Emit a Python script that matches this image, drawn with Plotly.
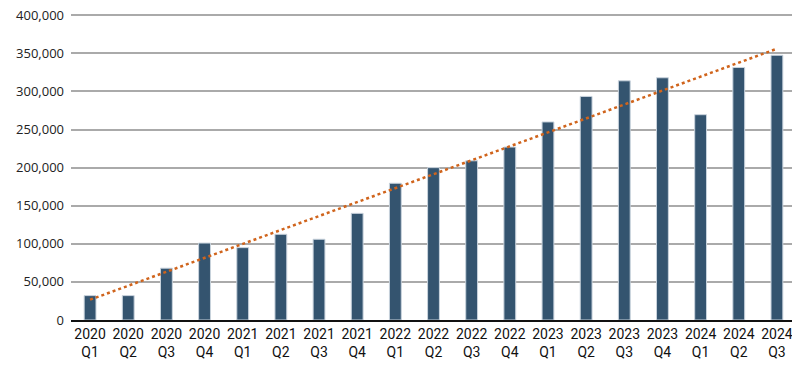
import numpy as np
import plotly.graph_objects as go

years = ["2020"]*4 + ["2021"]*4 + ["2022"]*4 + ["2023"]*4 + ["2024"]*3
quarters = ["Q1","Q2","Q3","Q4"]*4 + ["Q1","Q2","Q3"]
categories = [f"{y}<br>{q}" for y, q in zip(years, quarters)]
values = [32000, 32000, 68000, 101000, 95000, 112500, 106000, 140000, 179500,
          200000, 209000, 227000, 260000, 293500, 314000, 318000, 269500, 331500, 347500]
y_ticks = [0, 50000, 100000, 150000, 200000, 250000, 300000, 350000, 400000]

idx = np.arange(len(values))
slope, intercept = np.polyfit(idx, values, 1)
trend = slope * idx + intercept

fig = go.Figure()
fig.add_trace(go.Bar(
    x=categories, y=values, width=0.31,
    marker=dict(color="#34546f", line=dict(color="#c9d3dd", width=1)),
    hoverinfo="skip", showlegend=False,
))
fig.add_trace(go.Scatter(
    x=categories, y=trend, mode="lines",
    line=dict(color="#d0641c", width=2.5, dash="dot"),
    showlegend=False, hoverinfo="skip",
))

fig.update_layout(
    width=792, height=358,
    margin=dict(l=63, r=4, t=5, b=46, autoexpand=False),
    paper_bgcolor="white", plot_bgcolor="white",
    font=dict(family="Open Sans, sans-serif", size=13, color="#222222"),
    xaxis=dict(showgrid=False, ticks="", automargin=False, ticklabeloverflow="allow",
               tickfont=dict(family="Roboto, sans-serif", size=14, color="#111111"),
               showline=True, linecolor="#111111", linewidth=2),
    yaxis=dict(range=[0, 403000], tickvals=y_ticks,
               tickformat=",", automargin=False, ticklabeloverflow="allow", ticklabelstandoff=6,
               showgrid=True, gridcolor="#aaaaaa", gridwidth=2,
               zeroline=False, ticks="", tickfont=dict(size=13)),
)
fig.write_html("out.html")
